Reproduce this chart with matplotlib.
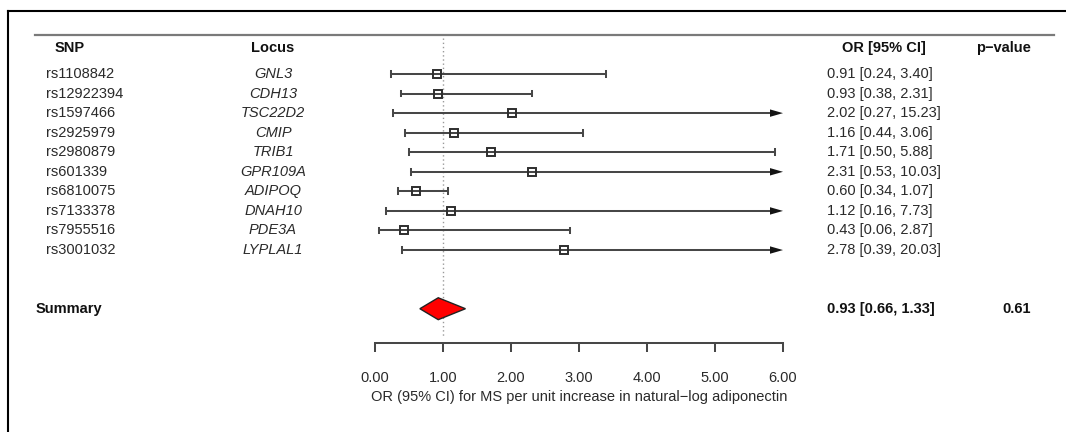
import matplotlib
matplotlib.use("Agg")
import matplotlib.pyplot as plt
from matplotlib.lines import Line2D
import matplotlib.transforms as mtransforms

plt.rcParams['font.family'] = ['Liberation Sans', 'DejaVu Sans']

snps = ["rs1108842", "rs12922394", "rs1597466", "rs2925979", "rs2980879",
        "rs601339", "rs6810075", "rs7133378", "rs7955516", "rs3001032"]
loci = ["GNL3", "CDH13", "TSC22D2", "CMIP", "TRIB1",
        "GPR109A", "ADIPOQ", "DNAH10", "PDE3A", "LYPLAL1"]
or_vals = [0.91, 0.93, 2.02, 1.16, 1.71, 2.31, 0.60, 1.12, 0.43, 2.78]
ci_low = [0.24, 0.38, 0.27, 0.44, 0.50, 0.53, 0.34, 0.16, 0.06, 0.39]
ci_high = [3.40, 2.31, 15.23, 3.06, 5.88, 10.03, 1.07, 7.73, 2.87, 20.03]
summary_or = 0.93
summary_low = 0.66
summary_high = 1.33
summary_p = "0.61"
xticks = [0, 1, 2, 3, 4, 5, 6]
xtick_labels = ["0.00", "1.00", "2.00", "3.00", "4.00", "5.00", "6.00"]
xlabel = "OR (95% CI) for MS per unit increase in natural\u2212log adiponectin"

W, H = 1066, 432
fig = plt.figure(figsize=(W / 100, H / 100), dpi=100)

# axes: full width, bottom edge at the axis line (343 px from top)
axis_px = 343
ax = fig.add_axes([0, (H - axis_px) / H, 1, axis_px / H])
ax.patch.set_alpha(0)

# x scale: 0 -> 375 px, 6 -> 783 px
x0_px, ppu = 375.0, 68.0
ax.set_xlim(-x0_px / ppu, (W - x0_px) / ppu)
# y: row 0 -> 74 px, row spacing 19.56 px
r0_px, rpp = 74.0, 19.56
ax.set_ylim((axis_px - r0_px) / rpp, -r0_px / rpp)

def px2x(px):
    return px / W

line_col = "#474747"
text_col = "#2a2a2a"
fs = 10.5
xmax = xticks[-1]
lw = 1.45

# reference line
ax.plot([1, 1], [(38 - r0_px) / rpp, (337 - r0_px) / rpp], color="#9a9a9a",
        lw=1.0, ls=(0, (1, 2)), zorder=1)

blend = mtransforms.blended_transform_factory(ax.transAxes, ax.transData)

cap = 0.15
for i, (o, lo, hi) in enumerate(zip(or_vals, ci_low, ci_high)):
    y = i
    if hi > xmax:
        head_len, head_w = 13 / ppu, 0.19
        ax.plot([lo, xmax - head_len * 0.8], [y, y], color=line_col, lw=lw, zorder=2,
                solid_capstyle='butt')
        ax.fill([xmax - head_len, xmax, xmax - head_len],
                [y - head_w, y, y + head_w], color="#141414", lw=0, zorder=3)
    else:
        ax.plot([lo, hi], [y, y], color=line_col, lw=lw, zorder=2)
        ax.plot([hi, hi], [y - cap, y + cap], color=line_col, lw=lw, zorder=2)
    ax.plot([lo, lo], [y - cap, y + cap], color=line_col, lw=lw, zorder=2)
    ax.plot([o], [y], marker='s', ms=6.4, mfc='none', mec="#2e2e2e", mew=1.4, zorder=4)

    ax.text(px2x(46), y, snps[i], transform=blend,
            ha='left', va='center', fontsize=fs, color=text_col)
    ax.text(px2x(273), y, loci[i], transform=blend,
            ha='center', va='center', fontsize=fs, color=text_col, style='italic')
    ax.text(px2x(827), y, f"{o:.2f} [{lo:.2f}, {hi:.2f}]", transform=blend,
            ha='left', va='center', fontsize=fs, color=text_col)

# summary
ys = 12.0
dh = 0.56
ax.fill([summary_low, summary_or, summary_high, summary_or],
        [ys, ys - dh, ys, ys + dh], facecolor="#ff0000", edgecolor="#222222", lw=1.0, zorder=5)
ax.text(px2x(36), ys, "Summary", transform=blend, ha='left', va='center',
        fontsize=fs, fontweight='bold', color="#111111")
ax.text(px2x(827), ys, f"{summary_or:.2f} [{summary_low:.2f}, {summary_high:.2f}]",
        transform=blend, ha='left', va='center', fontsize=fs, fontweight='bold', color="#111111")
ax.text(px2x(1031), ys, summary_p, transform=blend, ha='right', va='center',
        fontsize=fs, fontweight='bold', color="#111111")

# headers
yh = (48 - r0_px) / rpp
ax.text(px2x(70), yh, "SNP", transform=blend, ha='center', va='center',
        fontsize=fs, fontweight='bold', color="#111111")
ax.text(px2x(273), yh, "Locus", transform=blend, ha='center', va='center',
        fontsize=fs, fontweight='bold', color="#111111")
ax.text(px2x(884), yh, "OR [95% CI]", transform=blend, ha='center', va='center',
        fontsize=fs, fontweight='bold', color="#111111")
ax.text(px2x(1031), yh, "p\u2212value", transform=blend, ha='right', va='center',
        fontsize=fs, fontweight='bold', color="#111111")

# x axis
for s in ['top', 'left', 'right']:
    ax.spines[s].set_visible(False)
ax.spines['bottom'].set_bounds(xticks[0], xticks[-1])
ax.spines['bottom'].set_color(line_col)
ax.spines['bottom'].set_linewidth(lw)
ax.set_xticks(xticks)
ax.set_xticklabels(xtick_labels)
ax.tick_params(axis='x', direction='out', length=6.5, width=lw, color=line_col,
               pad=13.5, labelsize=fs, labelcolor=text_col)
ax.set_yticks([])

ax.text(3, (axis_px - 397) / axis_px, xlabel,
        transform=mtransforms.blended_transform_factory(ax.transData, ax.transAxes),
        ha='center', va='center', fontsize=fs, color=text_col)

# frame lines and header rule
fig.add_artist(Line2D([8 / W, 1], [1 - 11 / H, 1 - 11 / H], color='black', lw=1.5,
                      transform=fig.transFigure))
fig.add_artist(Line2D([8 / W, 8 / W], [0, 1 - 11 / H], color='black', lw=1.5,
                      transform=fig.transFigure))
fig.add_artist(Line2D([35 / W, 1054 / W], [1 - 35 / H, 1 - 35 / H], color='#7a7a7a', lw=1.6,
                      transform=fig.transFigure))

fig.savefig("out.png", dpi=100)
